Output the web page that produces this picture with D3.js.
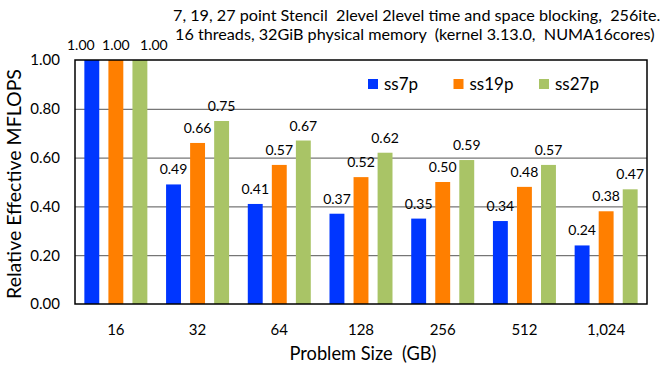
<!DOCTYPE html>
<html>
<head>
<meta charset="utf-8">
<script src="https://cdn.jsdelivr.net/npm/d3@7"></script>
<style>
  body { margin: 0; background: #fff; }
  text { font-family: Lato, "Open Sans", sans-serif; fill: #000; white-space: pre; }
</style>
</head>
<body>
<svg id="chart" width="661" height="366"></svg>
<script>
const sizes = ['16', '32', '64', '128', '256', '512', '1,024'];
const seriesNames = ['ss7p', 'ss19p', 'ss27p'];
const ss7p = [1.00, 0.49, 0.41, 0.37, 0.35, 0.34, 0.24];
const ss19p = [1.00, 0.66, 0.57, 0.52, 0.50, 0.48, 0.38];
const ss27p = [1.00, 0.75, 0.67, 0.62, 0.59, 0.57, 0.47];
const yTicks = [0, 0.2, 0.4, 0.6, 0.8, 1.0];
const titleLines = [
  '7, 19, 27 point Stencil  2level 2level time and space blocking,  256ite.',
  '16 threads, 32GiB physical memory  (kernel 3.13.0,  NUMA16cores)'
];

const colors = ['#0036ff', '#ff7f00', '#a9c466'];
const seriesVals = [ss7p, ss19p, ss27p];

const svg = d3.select('#chart');
const plotL = 75, plotR = 647, plotT = 60, plotB = 304;

// scale font size so a text gets the given width
function fitWidth(sel, w) {
  const fs = parseFloat(sel.attr('font-size'));
  const len = sel.node().getComputedTextLength();
  sel.attr('font-size', fs * w / len);
  return fs * w / len;
}

const x = d3.scaleBand().domain(sizes).range([plotL, plotR]);
const xs = d3.scaleBand().domain(seriesNames).range([0, 63]).paddingInner(0.38);
const y = d3.scaleLinear().domain([0, 1]).range([plotB, plotT]);

// grid lines
svg.append('g')
  .attr('transform', `translate(${plotL},0)`)
  .call(d3.axisLeft(y).tickValues(yTicks.slice(1, -1)).tickSize(-(plotR - plotL)).tickFormat(''))
  .call(g => g.select('.domain').remove())
  .call(g => g.selectAll('line').attr('stroke', '#555').attr('stroke-width', 1));

// bars
const groups = svg.append('g').selectAll('g')
  .data(sizes)
  .join('g')
  .attr('transform', d => `translate(${x(d) + x.bandwidth() / 2 - 31.5},0)`);

groups.selectAll('rect')
  .data((d, i) => seriesNames.map((s, k) => ({ s, v: seriesVals[k][i], k })))
  .join('rect')
  .attr('x', d => xs(d.s))
  .attr('y', d => y(d.v))
  .attr('width', xs.bandwidth())
  .attr('height', d => plotB - y(d.v))
  .attr('fill', d => colors[d.k]);

// labels of the first group are spread apart so they don't collide (like Excel does)
const spread = [-11, 0, 14];
groups.selectAll('text')
  .data((d, i) => seriesNames.map((s, k) => ({ s, v: seriesVals[k][i], k, i })))
  .join('text')
  .attr('x', d => xs(d.s) + xs.bandwidth() / 2 + (d.i === 0 ? spread[d.k] : 0))
  .attr('y', d => y(d.v) - 10)
  .attr('text-anchor', 'middle')
  .attr('font-size', 14)
  .text(d => d.v.toFixed(2));

// plot border
svg.append('rect')
  .attr('x', plotL).attr('y', plotT)
  .attr('width', plotR - plotL).attr('height', plotB - plotT)
  .attr('fill', 'none').attr('stroke', '#000').attr('stroke-width', 1.5);

// y axis labels
svg.append('g')
  .attr('transform', `translate(${plotL},0)`)
  .call(d3.axisLeft(y).tickValues(yTicks).tickSize(0).tickPadding(15).tickFormat(d3.format('.2f')))
  .call(g => g.select('.domain').remove())
  .call(g => g.selectAll('text').attr('font-size', 15).attr('font-family', null).attr('fill', '#000'));

// x axis labels
svg.append('g')
  .attr('transform', `translate(0,${plotB})`)
  .call(d3.axisBottom(x).tickSize(0).tickPadding(20))
  .call(g => g.select('.domain').remove())
  .call(g => g.selectAll('text').attr('font-size', 15).attr('font-family', null).attr('fill', '#000'));

// axis titles
svg.append('text')
  .attr('x', 363)
  .attr('y', 360)
  .attr('text-anchor', 'middle')
  .attr('font-size', 16)
  .text('Problem Size  (GB)')
  .call(fitWidth, 147);

svg.append('text')
  .attr('transform', `translate(21,${(plotT + plotB) / 2 + 2}) rotate(-90)`)
  .attr('text-anchor', 'middle')
  .attr('font-size', 16)
  .text('Relative Effective MFLOPS')
  .call(fitWidth, 230);

// title
const titles = svg.append('g').selectAll('text')
  .data(titleLines)
  .join('text')
  .attr('x', (d, i) => i === 0 ? 173 : 175)
  .attr('y', (d, i) => 21 + i * 19)
  .attr('font-size', 15)
  .text(d => d);
const tfs = fitWidth(titles.filter((d, i) => i === 1), 480);
titles.attr('font-size', tfs);

// legend
const legend = svg.append('g').selectAll('g')
  .data(seriesNames)
  .join('g')
  .attr('transform', (d, i) => `translate(${368 + i * 85.5},79)`);

legend.append('rect')
  .attr('width', 10).attr('height', 10)
  .attr('fill', (d, i) => colors[i]);

legend.append('text')
  .attr('x', 16).attr('y', 11)
  .attr('font-size', 17)
  .text(d => d);
</script>
</body>
</html>
